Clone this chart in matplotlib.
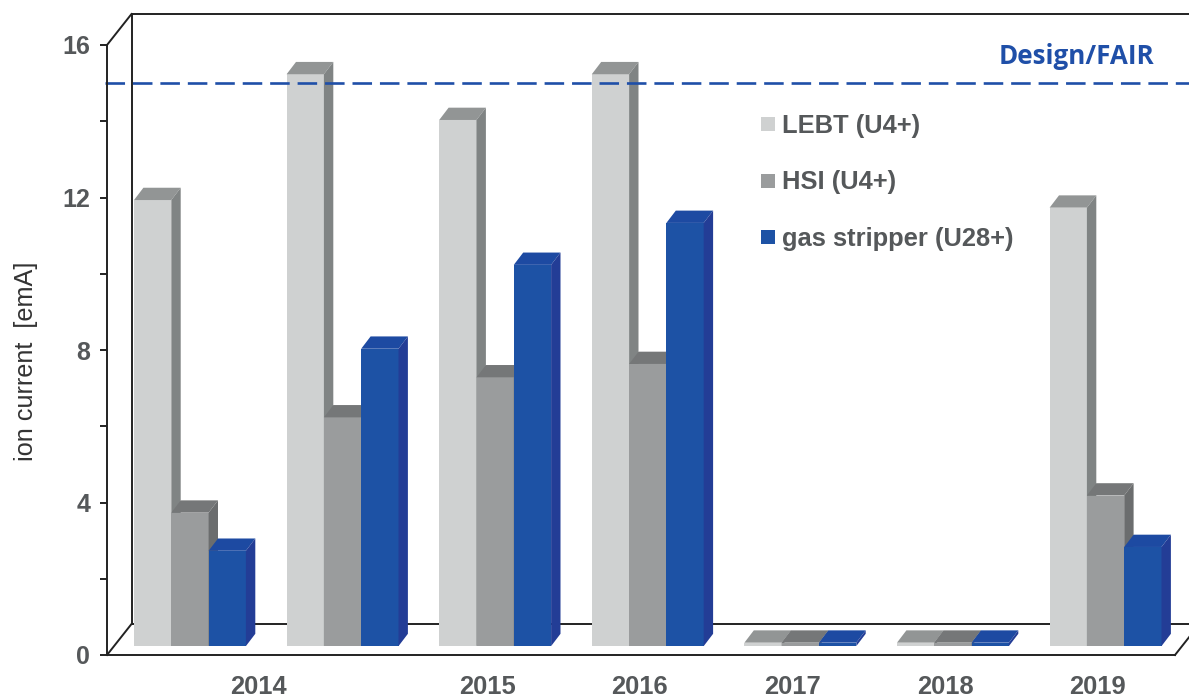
import matplotlib
matplotlib.use('Agg')
import matplotlib.pyplot as plt
from matplotlib.lines import Line2D

plt.rcParams['font.family'] = ['Liberation Sans', 'DejaVu Sans']

# data
groups = [0, 1, 2, 3, 4, 5, 6]
lebt = [11.7, 15.0, 13.8, 15.0, 0.09, 0.09, 11.5]
hsi = [3.5, 6.0, 7.05, 7.4, 0.09, 0.09, 3.95]
gas = [2.5, 7.8, 10.0, 11.1, 0.09, 0.09, 2.6]
series_names = ['LEBT (U4+)', 'HSI (U4+)', 'gas stripper (U28+)']
year_pos = [0.815, 2.315, 3.315, 4.315, 5.315, 6.315]
year_labels = ['2014', '2015', '2016', '2017', '2018', '2019']
y_ticks = [0, 2, 4, 6, 8, 10, 12, 14, 16]
y_tick_labels = ['0', '', '4', '', '8', '', '12', '', '16']
design = 15.0

# pixel sizes of the fake 3d view
group_px = 152.6
unit_px = 38.125
x_start = 134.0
bar_w = 37.3 / group_px
lift = 8.9 / unit_px
bar_dx = 9.4 / group_px
bar_dy = 12.3 / unit_px
wall_dx = 24.5 / group_px
wall_dy = 31.0 / unit_px
x_axis = (107.0 - x_start) / group_px
x_end = (1175.0 - x_start) / group_px

# front, top, side
colors = [('#cfd1d1', '#929595', '#808484'),
          ('#9a9c9d', '#757778', '#6b6d6e'),
          ('#1d52a5', '#1d4aa2', '#233d96')]
text_color = '#55585a'
line_color = '#222222'

fig = plt.figure(figsize=(11.89, 6.98), dpi=100)
ax = fig.add_axes([0, 0, 1, 1])
ax.set_xlim(-x_start / group_px, (1189 - x_start) / group_px)
ax.set_ylim(-43.0 / unit_px, 655.0 / unit_px)
ax.patch.set_alpha(0)

# walls and floor
wall = dict(color=line_color, lw=1.4, zorder=1, solid_capstyle='projecting')
ax.plot([x_axis, x_axis + wall_dx], [16, 16 + wall_dy], **wall)
ax.plot([x_axis + wall_dx, x_axis + wall_dx], [wall_dy, 16 + wall_dy], **wall)
ax.plot([x_axis + wall_dx, 20], [16 + wall_dy, 16 + wall_dy], **wall)
ax.plot([x_axis, x_axis + wall_dx], [0, wall_dy], **wall)
ax.plot([x_axis + wall_dx, 20], [wall_dy, wall_dy], **wall)
ax.plot([x_end, x_end + wall_dx], [0, wall_dy], **wall)

# bars
for k, vals in enumerate([lebt, hsi, gas]):
    front, top, side = colors[k]
    for g, v in zip(groups, vals):
        x1 = g + k * bar_w
        x2 = x1 + bar_w
        y1 = lift
        y2 = lift + v
        ax.bar(x1, v, bar_w, bottom=lift, align='edge', color=front, lw=0, zorder=3 + k)
        ax.fill([x1, x2, x2 + bar_dx, x1 + bar_dx], [y2, y2, y2 + bar_dy, y2 + bar_dy],
                color=top, lw=0, zorder=3 + k)
        ax.fill([x2, x2 + bar_dx, x2 + bar_dx, x2], [y1, y1 + bar_dy, y2 + bar_dy, y2],
                color=side, lw=0, zorder=3 + k)

# design line
ax.plot([x_axis - 0.012, 20], [design, design], color='#1f4fa8', lw=1.9,
        dashes=(7.4, 3.0), zorder=8)
ax.text((1076 - x_start) / group_px, (655 - 57) / unit_px, 'Design/FAIR', color='#1f4fa8',
        fontsize=18.7, fontweight='bold', family='Open Sans', ha='center', va='center')

# axes
for s in ['top', 'right']:
    ax.spines[s].set_visible(False)
ax.spines['left'].set_position(('data', x_axis))
ax.spines['bottom'].set_position(('data', 0))
ax.spines['left'].set_bounds(0, 16)
ax.spines['bottom'].set_bounds(x_axis, x_end)
for s in ['left', 'bottom']:
    ax.spines[s].set_linewidth(1.4)
    ax.spines[s].set_color(line_color)
    ax.spines[s].set_zorder(9)
ax.set_yticks(y_ticks)
ax.set_yticklabels(y_tick_labels, fontsize=18, fontweight='bold', color=text_color)
ax.tick_params(axis='y', length=5, width=1.4, color=line_color, pad=7)
ax.set_xticks(year_pos)
ax.set_xticklabels(year_labels, fontsize=18.4, fontweight='bold', color=text_color)
ax.tick_params(axis='x', length=0, pad=14.3)
ax.set_ylabel('ion current  [emA]', fontsize=18.2, color='#333333')
ax.yaxis.set_label_coords(38 / 1189, 1 - 361 / 698)

# legend
handles = [Line2D([], [], ls='', marker='s', ms=9.5, mew=0, color=c[0]) for c in colors]
leg = ax.legend(handles, series_names, frameon=False, loc='upper left',
                bbox_to_anchor=(755.5 / 1189, 1 - 114 / 698), borderaxespad=0, borderpad=0,
                handlelength=1.0, handletextpad=0.02, labelspacing=1.27,
                prop={'size': 18.4, 'weight': 'bold'}, labelcolor=text_color)

fig.savefig('out.png', dpi=100)
